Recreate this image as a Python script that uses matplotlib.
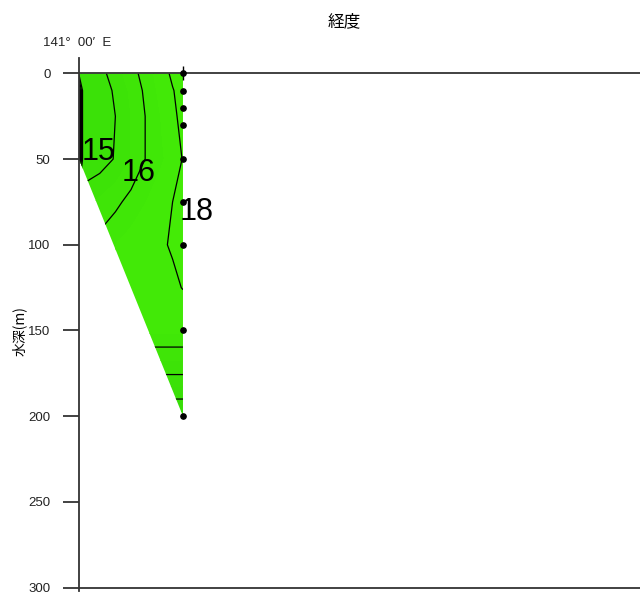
import matplotlib.pyplot as plt
import numpy as np
from matplotlib.patches import Polygon
from matplotlib.colors import LinearSegmentedColormap

# section grid (x = fraction of distance to second station, depth in m)
grid_x = [0, 0.04, 0.2, 0.35, 0.5, 0.65, 0.8, 0.9, 1.0]
grid_depth = [0, 10, 25, 50, 75, 100, 125, 150, 175, 200]
temp = [
    [14.3, 14.6, 14.8, 15.27, 15.77, 16.27, 16.8, 17.1, 17.2],
    [10.5, 14.6, 14.75, 15.07, 15.6, 16.15, 16.7, 16.97, 17.2],
    [10.5, 14.6, 14.7, 15.0, 15.5, 16.05, 16.55, 16.85, 17.2],
    [10.5, 14.6, 14.7, 15.05, 15.5, 16.05, 16.45, 16.7, 17.03],
    [15.0, 15.3, 15.6, 15.85, 16.2, 16.5, 16.8, 17.0, 17.2],
    [15.6, 15.9, 16.2, 16.5, 16.7, 16.8, 16.95, 17.05, 17.15],
    [16.0, 16.2, 16.4, 16.5, 16.6, 16.7, 16.8, 16.9, 17.02],
    [16.6, 16.6, 16.6, 16.6, 16.6, 16.6, 16.6, 16.6, 16.6],
    [15.05, 15.05, 15.05, 15.05, 15.05, 15.05, 15.05, 15.05, 15.05],
    [13.3, 13.3, 13.3, 13.3, 13.3, 13.3, 13.3, 13.3, 13.3],
]
levels = [11, 12, 13, 14, 15, 16, 17]

# stations: position and bottom depth
station_x = [0, 1]
station_bottom = [50, 200]
obs_depth = [0, 10, 20, 30, 50, 75, 100, 150, 200]

# contour labels as printed on the chart
label_text = ["15", "16", "18"]
label_x = [0.19, 0.57, 1.13]
label_depth = [46, 58, 81]

y_ticks = [0, 50, 100, 150, 200, 250, 300]

fig = plt.figure(figsize=(6.4, 5.93), dpi=100)
ax = fig.add_axes([0.1234, 0.0034, 0.8766, 0.8988])

X, D = np.meshgrid(grid_x, grid_depth)
T = np.array(temp)

tri = Polygon([(station_x[0], 0), (station_x[0], station_bottom[0]),
               (station_x[1], station_bottom[1]), (station_x[1], 0)],
              closed=True, facecolor="none", edgecolor="none")
ax.add_patch(tri)

cmap = LinearSegmentedColormap.from_list("grn", ["#2ccf0a", "#46ee06"])
cf = ax.contourf(X, D, T, levels=np.linspace(10, 18, 17), cmap=cmap)
cf.set_clip_path(tri)
cs = ax.contour(X, D, T, levels=levels, colors="black", linewidths=0.9)
cs.set_clip_path(tri)

ax.plot([station_x[1]] * len(obs_depth), obs_depth, "o", color="black",
        markersize=3.8, clip_on=False, zorder=3)
ax.plot([station_x[1]], [0], marker="|", color="black", markersize=10,
        clip_on=False)

for t, lx, ld in zip(label_text, label_x, label_depth):
    ax.text(lx, ld, t, fontsize=22, zorder=4,
            family=["Liberation Sans Narrow", "Liberation Sans"],
            ha="center", va="center", color="black")

ax.axhline(0, color="#333333", lw=1.3)
ax.axhline(300, color="#333333", lw=1.3)

ax.set_xlim(0, 5.394)
ax.set_ylim(302, -9)
ax.set_yticks(y_ticks)
ax.set_xticks([])
for s in ["top", "right", "bottom"]:
    ax.spines[s].set_visible(False)
ax.spines["left"].set_color("#333333")
ax.spines["left"].set_linewidth(1.3)
ax.tick_params(axis="y", direction="out", length=11.5, width=1.3,
               color="#333333", labelsize=9.5, pad=9, labelcolor="#222222")
for lab in ax.get_yticklabels():
    lab.set_family("Liberation Sans")

ax.text(-0.02, -18, "141°  00′  E", fontsize=9.5, ha="center", va="center",
        clip_on=False, color="#222222", family="Liberation Sans")
fig.text(344 / 640, 1 - 22 / 593, "経度", fontsize=12, ha="center",
         va="center", family=["Noto Sans CJK JP", "DejaVu Sans"])
fig.text(19 / 640, 1 - 331 / 593, "水深(m)", fontsize=10, rotation=90,
         ha="center", va="center", family=["Noto Sans CJK JP", "DejaVu Sans"])

fig.savefig("out.png", dpi=100)
